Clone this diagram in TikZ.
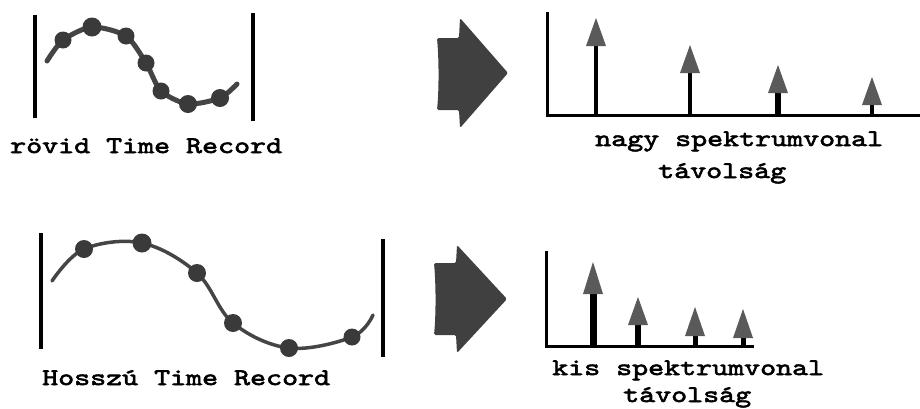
\documentclass[tikz,border=0pt]{standalone}
\usepackage{fontspec}
\newfontfamily\lblfont[FakeStretch=1.28,FakeBold=2.5]{lmmono10-regular.otf}
\definecolor{wave}{HTML}{454545}
\definecolor{dotc}{HTML}{3A3A3A}
\definecolor{bigarrow}{HTML}{404040}
\definecolor{headc}{HTML}{5A5A5A}
\tikzset{
  lbl/.style={anchor=base west, inner sep=0pt, font=\lblfont\fontsize{23.8}{26}\selectfont},
  barline/.style={line width=3.5pt, black},
  axisline/.style={line width=3pt, black, line cap=rect},
  wavetop/.style={line width=5pt, wave, line cap=round},
  wavebot/.style={line width=3.5pt, wave, line cap=round},
  sdot/.style={fill=dotc},
  bigarr/.style={fill=bigarrow, rounded corners=1.5pt},
}
\newcommand{\spike}[5]{% x, baseline, tip, headheight, stemwidth
  \fill[black] ({#1-#5/2},#2) rectangle ({#1+#5/2},{#3+#4-1});
  \fill[headc] (#1,#3) -- ({#1+10},{#3+#4}) -- ({#1-10},{#3+#4}) -- cycle;
}
\begin{document}
\begin{tikzpicture}[x=1pt,y=-1pt]
\useasboundingbox (0,0) rectangle (920,408);
\fill[white] (0,0) rectangle (920,408);

% ---------- top left: short time record ----------
\draw[barline] (35,15) -- (35,118);
\draw[barline] (253,13) -- (253,121);
\draw[wavetop] plot[smooth, tension=0.45] coordinates
  {(47,61) (63,40) (92,27) (126,36) (146,63) (161,91) (188,104) (220,98) (237,84)};
\foreach \px/\py/\r in {63/40/8.5, 92/27/9.5, 126/36/8.5, 146/63/8.5, 161/91/8.5, 188/104/9, 220/98/9}
  \fill[sdot] (\px,\py) circle (\r);
\node[lbl] (t1) at (10,153) {rövid Time Record};

% ---------- top arrow ----------
\fill[bigarr] (437,38) .. controls (439,60) and (439,90) .. (437,110) -- (459,110) -- (460,128) -- (508,73) -- (460,18) -- (459,38) -- cycle;

% ---------- top spectrum ----------
\draw[axisline] (547,13) -- (547,115) -- (920,115);
\spike{596}{115}{18}{28}{4}
\spike{690}{115}{45}{28}{4}
\spike{778}{115}{65}{28}{6}
\spike{872}{115}{77}{28}{4}
\node[lbl] (s1) at (595,146) {nagy spektrumvonal};
\node[lbl] (d1) at (658,178) {távolság};

% ---------- bottom left: long time record ----------
\draw[barline] (41,233) -- (41,349);
\draw[barline] (383,239) -- (383,357);
\draw[wavebot] plot[smooth, tension=0.6] coordinates
  {(52,281) (84,249) (142,243) (197,273) (233,323) (289,348) (352,337) (373,315)};
\foreach \px/\py/\r in {84/249/9, 142/243/9.5, 197/273/9, 233/323/9, 289/348/9, 352/337/8.5}
  \fill[sdot] (\px,\py) circle (\r);
\node[lbl] (t2) at (42,385) {Hosszú Time Record};

% ---------- bottom arrow ----------
\fill[bigarr] (434,263) .. controls (436,285) and (436,315) .. (434,335) -- (456,335) -- (457,353) -- (507,299) -- (457,245) -- (456,263) -- cycle;

% ---------- bottom spectrum ----------
\draw[axisline] (546,252) -- (546,346) -- (752,346);
\spike{593}{346}{262}{32}{7}
\spike{638}{346}{297}{28}{6}
\spike{695}{346}{307}{29}{5}
\spike{743}{346}{309}{29}{5}
\node[lbl] (s2) at (552,375) {kis spektrumvonal};
\node[lbl] (d2) at (623,402) {távolság};
\end{tikzpicture}
\end{document}
